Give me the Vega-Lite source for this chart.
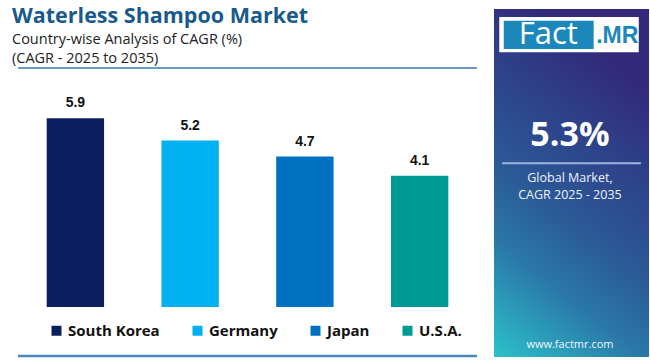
{
  "$schema": "https://vega.github.io/schema/vega-lite/v6.json",
  "background": "white",
  "padding": {"left": 12, "top": 6, "right": 3, "bottom": 2},
  "spacing": 15,
  "config": {"view": {"stroke": null}, "font": "Open Sans"},
  "hconcat": [
    {
      "width": 459,
      "height": 348,
      "title": {
        "text": "Waterless Shampoo Market",
        "subtitle": ["Country-wise Analysis of CAGR (%)", "(CAGR - 2025 to 2035)"],
        "anchor": "start",
        "frame": "group",
        "dx": -6,
        "font": "Open Sans",
        "fontSize": 21.5,
        "fontWeight": "bold",
        "color": "#195a8d",
        "subtitleFont": "Open Sans",
        "subtitleFontSize": 14.5,
        "subtitleColor": "#222222",
        "subtitleLineHeight": 19,
        "subtitlePadding": 5,
        "offset": -56
      },
      "data": {
        "values": [
          {"country": "South Korea", "cagr": 5.9},
          {"country": "Germany", "cagr": 5.2},
          {"country": "Japan", "cagr": 4.7},
          {"country": "U.S.A.", "cagr": 4.1}
        ]
      },
      "layer": [
        {
          "mark": {"type": "bar"},
          "encoding": {
            "x": {"field": "country", "type": "nominal", "sort": null, "axis": null,
                  "scale": {"type": "band", "paddingInner": 0.5, "paddingOuter": 0.25}},
            "y": {"field": "cagr", "type": "quantitative",
                  "scale": {"domain": [-1.5625, 9.3125], "nice": false, "zero": false},
                  "axis": {"grid": true, "gridColor": "#e6e6e6", "gridWidth": 1, "values": [0, 1, 2, 3, 4, 5, 6, 7],
                           "labels": false, "ticks": false, "domain": false, "title": null}},
            "y2": {"datum": 0},
            "color": {
              "field": "country", "type": "nominal", "sort": null,
              "scale": {"domain": ["South Korea", "Germany", "Japan", "U.S.A."],
                        "range": ["#0b1f5e", "#00b0f0", "#0070c0", "#009a94"]},
              "legend": {
                "orient": "none", "legendX": 31, "legendY": 314, "direction": "horizontal",
                "title": null, "symbolType": "square", "symbolSize": 100, "symbolStrokeWidth": 0,
                "labelFont": "Open Sans", "labelFontSize": 15, "labelFontWeight": "bold",
                "labelColor": "#111111", "columnPadding": 30, "labelOffset": 4, "padding": 0
              }
            }
          }
        },
        {
          "mark": {"type": "text", "baseline": "alphabetic", "dy": -11, "fontSize": 14,
                   "fontWeight": "bold", "font": "Liberation Sans", "color": "#111111"},
          "encoding": {
            "x": {"field": "country", "type": "nominal", "sort": null},
            "y": {"field": "cagr", "type": "quantitative"},
            "text": {"field": "cagr", "type": "quantitative", "format": ".1f"}
          }
        },
        {
          "data": {"values": [{}]},
          "mark": {"type": "rule", "color": "#3b7bb0", "strokeWidth": 1.5, "clip": false},
          "encoding": {"y": {"datum": 7.47, "type": "quantitative", "axis": null}}
        },
        {
          "data": {"values": [{}]},
          "mark": {"type": "rule", "color": "#4a86b8", "strokeWidth": 2.5, "clip": false},
          "encoding": {"y": {"datum": -1.53, "type": "quantitative", "axis": null}}
        }
      ]
    },
    {
      "width": 155,
      "height": 348,
      "encoding": {
        "x": {"datum": 0, "type": "quantitative", "scale": {"domain": [0, 1], "nice": false, "zero": false}, "axis": null},
        "y": {"datum": 0, "type": "quantitative", "scale": {"domain": [0, 1], "nice": false, "zero": false, "reverse": true}, "axis": null}
      },
      "layer": [
        {
          "data": {"values": [{}]},
          "mark": {
            "type": "rect",
            "color": {
              "gradient": "linear", "x1": 0, "y1": 1, "x2": 0.35, "y2": 0,
              "stops": [
                {"offset": 0, "color": "#2cc2ca"},
                {"offset": 0.3, "color": "#2a78a8"},
                {"offset": 0.5, "color": "#2b5a97"},
                {"offset": 0.8, "color": "#2e3d88"},
                {"offset": 1, "color": "#33287a"}
              ]
            }
          },
          "encoding": {
            "x": {"datum": 0, "type": "quantitative"},
            "x2": {"datum": 1},
            "y": {"datum": 0, "type": "quantitative"},
            "y2": {"datum": 1}
          }
        },
        {
          "data": {"values": [{}]},
          "mark": {"type": "rect", "color": "white"},
          "encoding": {
            "x": {"datum": 0.034, "type": "quantitative"},
            "x2": {"datum": 0.934},
            "y": {"datum": 0.023, "type": "quantitative"},
            "y2": {"datum": 0.124}
          }
        },
        {
          "data": {"values": [{}]},
          "mark": {"type": "rect", "color": "#1b87ba"},
          "encoding": {
            "x": {"datum": 0.063, "type": "quantitative"},
            "x2": {"datum": 0.643},
            "y": {"datum": 0.034, "type": "quantitative"},
            "y2": {"datum": 0.115}
          }
        },
        {
          "data": {"values": [{"t": "Fact"}]},
          "mark": {"type": "text", "color": "white", "font": "Open Sans", "fontSize": 31, "baseline": "middle", "align": "center"},
          "encoding": {
            "x": {"datum": 0.35, "type": "quantitative"},
            "y": {"datum": 0.076, "type": "quantitative"},
            "text": {"field": "t"}
          }
        },
        {
          "data": {"values": [{"t": ".MR"}]},
          "mark": {"type": "text", "color": "#1b87ba", "font": "Liberation Sans", "fontWeight": "bold", "fontSize": 23, "baseline": "middle", "align": "center"},
          "encoding": {
            "x": {"datum": 0.795, "type": "quantitative"},
            "y": {"datum": 0.077, "type": "quantitative"},
            "text": {"field": "t"}
          }
        },
        {
          "data": {"values": [{"t": "5.3%"}]},
          "mark": {"type": "text", "color": "white", "font": "Open Sans", "fontWeight": "bold", "fontSize": 34, "baseline": "middle", "align": "center"},
          "encoding": {
            "x": {"datum": 0.49, "type": "quantitative"},
            "y": {"datum": 0.365, "type": "quantitative"},
            "text": {"field": "t"}
          }
        },
        {
          "data": {"values": [{}]},
          "mark": {"type": "rule", "color": "#9fb3dc", "strokeWidth": 2},
          "encoding": {
            "x": {"datum": 0.052, "type": "quantitative"},
            "x2": {"datum": 0.948},
            "y": {"datum": 0.443, "type": "quantitative"}
          }
        },
        {
          "data": {"values": [{"t": "Global Market,\nCAGR 2025 - 2035"}]},
          "mark": {"type": "text", "color": "#eef3fa", "font": "Open Sans", "fontSize": 12.5, "baseline": "middle", "align": "center", "lineBreak": "\n", "lineHeight": 16.5},
          "encoding": {
            "x": {"datum": 0.49, "type": "quantitative"},
            "y": {"datum": 0.486, "type": "quantitative"},
            "text": {"field": "t"}
          }
        },
        {
          "data": {"values": [{"t": "www.factmr.com"}]},
          "mark": {"type": "text", "color": "#f2f6fb", "font": "Open Sans", "fontSize": 11, "baseline": "middle", "align": "center"},
          "encoding": {
            "x": {"datum": 0.49, "type": "quantitative"},
            "y": {"datum": 0.965, "type": "quantitative"},
            "text": {"field": "t"}
          }
        }
      ]
    }
  ]
}
